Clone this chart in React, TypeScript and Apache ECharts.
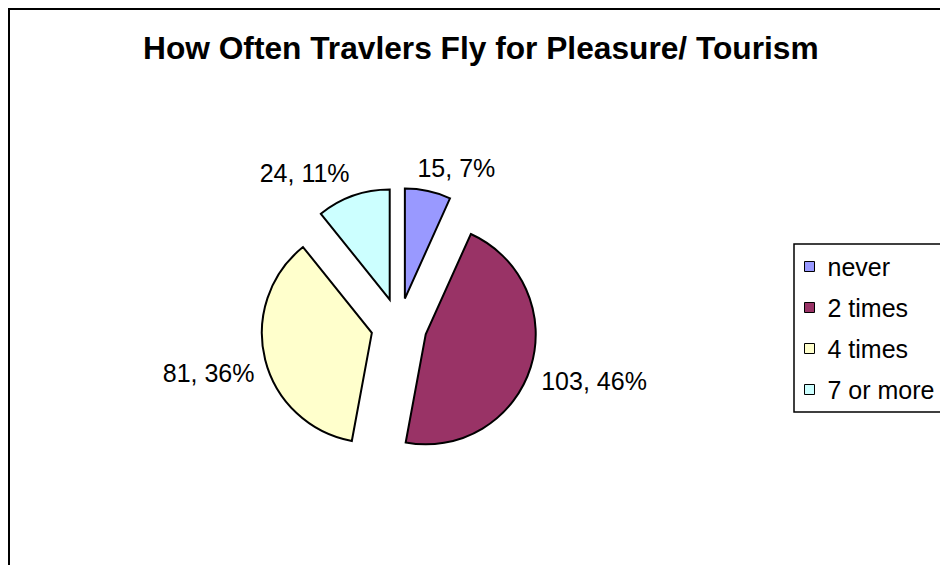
import React, { useEffect, useRef } from "react";
import * as echarts from "echarts";

const categories = ["never", "2 times", "4 times", "7 or more"];
const values = [15, 103, 81, 24];
const colors = ["#9999FF", "#993366", "#FFFFCC", "#CCFFFF"];
const titleText = "How Often Travlers Fly for Pleasure/ Tourism";

const FONT = "'Liberation Sans', Arial, Helvetica, sans-serif";
const CX = 399;
const CY = 326;
const R = 110;
const EXPLODE = 28;
const LABEL_GAP = 11;

export default function App() {
  const ref = useRef<HTMLDivElement>(null);
  useEffect(() => {
    const chart = echarts.init(ref.current!, null, { renderer: "svg" });
    const total = values.reduce((a, b) => a + b, 0);
    const starts: number[] = [];
    const mids: number[] = [];
    let acc = 0;
    values.forEach((v) => {
      starts.push(acc / total);
      mids.push(((acc + v / 2) / total) * 2 * Math.PI);
      acc += v;
    });

    const series = categories.map((name, i) => {
      const a = mids[i];
      const s = Math.sin(a);
      const c = Math.cos(a);
      const ecx = CX + s * EXPLODE;
      const ecy = CY - c * EXPLODE;
      return {
        type: "pie",
        id: "slice-" + i,
        center: [ecx, ecy],
        radius: R,
        startAngle: 90 - starts[i] * 360,
        clockwise: true,
        avoidLabelOverlap: false,
        silent: true,
        emphasis: { disabled: true },
        data: [
          {
            name,
            value: values[i],
            itemStyle: {
              color: colors[i],
              borderColor: "#000",
              borderWidth: 2,
              borderJoin: "miter",
            },
          },
          {
            name: "",
            value: total - values[i],
            itemStyle: { color: "rgba(0,0,0,0)", borderWidth: 0 },
            label: { show: false },
          },
        ],
        label: {
          show: true,
          position: "outside",
          formatter: (p: any) =>
            `${p.value}, ${Math.round((p.value / total) * 100)}%`,
          fontSize: 25,
          color: "#000",
          fontFamily: FONT,
        },
        labelLine: { show: false },
        labelLayout: (p: any) => {
          if (p.dataIndex !== 0) return {};
          const d = R + LABEL_GAP;
          const ax = ecx + s * d;
          const ay = ecy - c * d;
          const w = p.labelRect ? p.labelRect.width : 0;
          const f = Math.min(1, Math.max(0, 0.5 - 1.6 * s));
          return {
            x: ax - f * w,
            y: ay - (c < 0 ? 2 : 0),
            align: "left",
            verticalAlign: c >= 0 ? "bottom" : "top",
          };
        },
      };
    });

    chart.setOption({
      animation: false,
      backgroundColor: "#ffffff",
      title: {
        text: titleText,
        left: 143,
        top: 32,
        padding: 0,
        textStyle: {
          fontSize: 31.7,
          fontWeight: "bold",
          color: "#000",
          fontFamily: FONT,
        },
      },
      legend: {
        orient: "vertical",
        left: 794,
        top: 244,
        padding: [10, 10, 10, 10],
        itemGap: 16,
        itemWidth: 10,
        itemHeight: 10,
        icon: "rect",
        borderColor: "#000",
        borderWidth: 1.5,
        data: categories,
        selectedMode: false,
        itemStyle: { borderColor: "#000", borderWidth: 1 },
        textStyle: {
          fontSize: 25,
          color: "#000",
          fontFamily: FONT,
          padding: [0, 0, 0, 8],
        },
      },
      graphic: [
        {
          type: "rect",
          silent: true,
          z: -1,
          shape: { x: 9, y: 9, width: 1200, height: 1200 },
          style: { fill: "none", stroke: "#000", lineWidth: 2 },
        },
      ],
      series,
    });
    return () => chart.dispose();
  }, []);
  return (
    <div
      ref={ref}
      style={{
        position: "fixed",
        left: 0,
        top: 0,
        width: 940,
        height: 565,
        overflow: "hidden",
      }}
    />
  );
}
